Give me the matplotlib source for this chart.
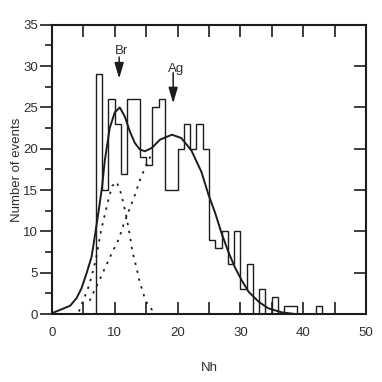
import numpy as np
import matplotlib
matplotlib.use('Agg')
import matplotlib.pyplot as plt
from matplotlib.ticker import MultipleLocator, FuncFormatter

# histogram: unit bins starting at Nh = 7
BIN_EDGES = list(range(7, 44))
COUNTS = [29, 15, 26, 23, 17, 26, 26, 19, 18, 25, 26, 15, 15, 20, 23, 20, 23, 20,
          9, 8, 10, 6, 10, 3, 6, 0, 3, 0, 2, 0, 1, 1, 0, 0, 0, 1]

# total fit (solid line)
FIT_X = [0.0, 1.3, 2.9, 3.9, 4.7, 5.5, 6.3, 6.6, 7.0, 7.5, 8.0, 8.4, 9.2, 10.0, 10.8,
         11.6, 12.4, 13.2, 14.0, 14.8, 15.9, 17.2, 19.1, 20.6, 22.2, 23.8, 24.9,
         26.0, 27.0, 28.1, 29.1, 30.2, 31.3, 32.9, 34.4, 36.6, 38.7]
FIT_Y = [0.1, 0.5, 1.0, 1.9, 3.1, 4.9, 6.9, 8.3, 10.3, 12.8, 15.5, 18.5, 22.5, 24.4, 25.0,
         23.9, 22.1, 20.7, 19.9, 19.7, 20.1, 21.1, 21.7, 21.3, 19.8, 17.2, 14.5,
         12.2, 9.8, 7.5, 5.7, 4.1, 2.7, 1.5, 0.7, 0.2, 0.0]

# Br component (dotted)
BR_X = [4.3, 4.9, 5.7, 6.3, 7.0, 7.8, 8.9, 9.6, 10.3, 11.0, 11.8, 12.4, 12.8, 13.5,
        13.9, 14.7, 15.3, 16.1]
BR_Y = [0.3, 1.5, 3.0, 4.5, 6.6, 10.0, 13.6, 15.5, 16.0, 14.6, 12.0, 9.5, 7.6, 5.5,
        4.1, 2.1, 1.0, 0.4]

# Ag component (dotted, merges into the solid line)
AG_X = [6.0, 6.8, 7.5, 8.4, 9.5, 10.6, 11.4, 12.3, 13.2, 14.1, 15.0, 16.0]
AG_Y = [1.6, 2.9, 4.0, 5.5, 7.3, 9.0, 10.8, 12.6, 14.4, 16.4, 18.0, 19.6]

BR_PEAK = 10.7
AG_PEAK = 19.3

INK = '#1c1c1c'
TXT = '#2e2e2e'

plt.rcParams['font.family'] = ['Liberation Sans', 'DejaVu Sans']
plt.rcParams['font.size'] = 9

fig = plt.figure(figsize=(3.82, 3.82), dpi=100)
ax = fig.add_axes([0.136, 0.178, 0.822, 0.757])

ax.stairs(COUNTS, BIN_EDGES, baseline=0, color=INK, lw=1.0)
ax.plot(FIT_X, FIT_Y, color=INK, lw=1.4)
ax.plot(BR_X, BR_Y, color=INK, lw=1.3, linestyle=(0, (1.3, 3.2)))
ax.plot(AG_X, AG_Y, color=INK, lw=1.3, linestyle=(0, (1.3, 3.2)))

arrow = dict(arrowstyle='-|>,head_length=0.95,head_width=0.28', color=INK, lw=1.1,
             shrinkA=0, shrinkB=0, mutation_scale=10)
ax.annotate('', xy=(BR_PEAK, 28.5), xytext=(BR_PEAK, 31.1), arrowprops=arrow)
ax.annotate('', xy=(AG_PEAK, 25.5), xytext=(AG_PEAK, 29.2), arrowprops=arrow)
ax.text(BR_PEAK + 0.35, 31.8, 'Br', ha='center', va='center', color=TXT, fontsize=9.5)
ax.text(AG_PEAK + 0.4, 29.7, 'Ag', ha='center', va='center', color=TXT, fontsize=9.5)

ax.set_xlim(0, 50)
ax.set_ylim(0, 35)

for s in ax.spines.values():
    s.set_linewidth(1.5)
    s.set_color(INK)

ax.xaxis.set_major_locator(MultipleLocator(5))
ax.xaxis.set_major_formatter(FuncFormatter(lambda v, p: '%d' % v if int(round(v)) % 10 == 0 else ''))
ax.tick_params(axis='x', direction='in', top=True, length=8.5, width=1.2, pad=9,
               color=INK, labelcolor=TXT, labelsize=9.5)

ax.yaxis.set_major_locator(MultipleLocator(5))
ax.yaxis.set_minor_locator(MultipleLocator(2.5))
ax.tick_params(axis='y', which='major', direction='out', length=9, width=1.2, pad=1,
               color=INK, labelcolor=TXT, labelsize=9.5)
ax.tick_params(axis='y', which='minor', direction='out', length=5, width=1.2, color=INK)

# right side: inward major ticks only
ax2 = ax.twinx()
ax2.set_ylim(0, 35)
ax2.yaxis.set_major_locator(MultipleLocator(5))
ax2.tick_params(axis='y', direction='in', length=8.5, width=1.2, color=INK, labelright=False)
for s in ax2.spines.values():
    s.set_visible(False)

ax.set_xlabel('Nh', color=TXT, fontsize=9.5, labelpad=17)
ax.set_ylabel('Number of events', color=TXT, fontsize=9.5, labelpad=0)

fig.savefig('out.png', dpi=100)
